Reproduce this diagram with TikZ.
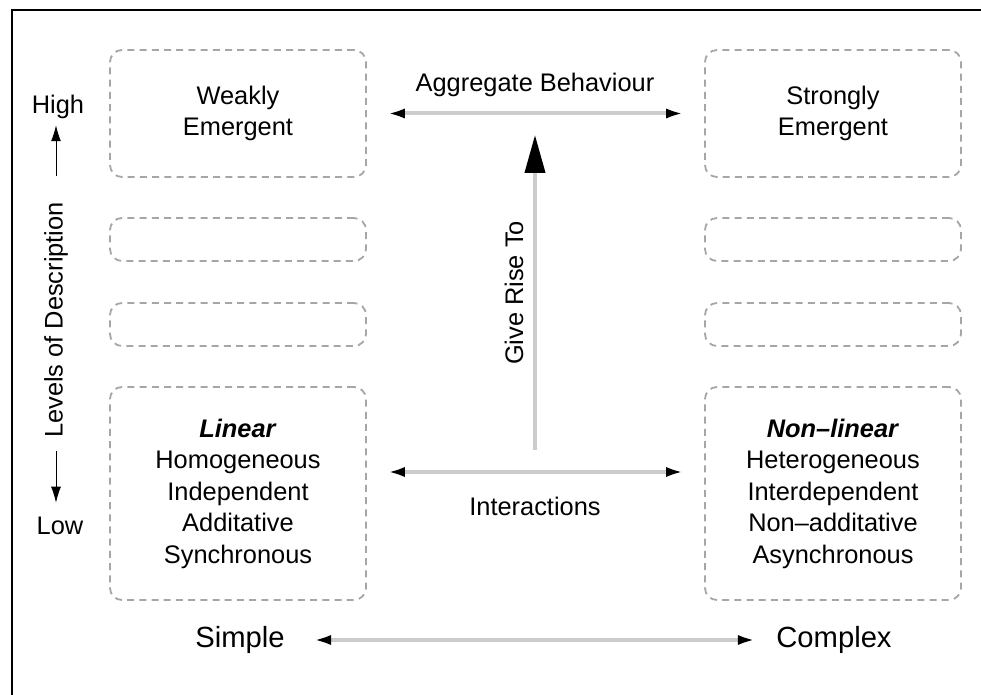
\documentclass[tikz,border=0pt]{standalone}
\usepackage{fontspec}
\setmainfont{Liberation Sans}
\usetikzlibrary{arrows.meta}

\begin{document}
\begin{tikzpicture}[
    x=0.5pt,y=-0.5pt,
    font=\fontsize{12.7}{15.75}\selectfont,
    level/.style={draw=black!35,dash pattern=on 3.5pt off 2.6pt,line width=0.9pt,
                  rounded corners=6pt,align=center,inner sep=0pt,
                  minimum width=128pt},
    lbl/.style={inner sep=0pt},
    big/.style={inner sep=0pt,font=\fontsize{14.6}{17}\selectfont},
    garr/.style={draw=black!20,line width=2pt,
                 {Latex[black,length=9pt,width=5pt]}-{Latex[black,length=9pt,width=5pt]}},
    axarr/.style={-{Latex[length=8pt,width=5pt]},line width=0.5pt}
  ]
  \useasboundingbox (0,0) rectangle (981,695);
  \draw[line width=1pt] (12,695) -- (12,10) -- (981,10);

  % levels of description
  \node[level,minimum height=63.5pt] (weak) at (238,113.5) {Weakly\\Emergent};
  \node[level,minimum height=63.5pt] (strong) at (833,113.5) {Strongly\\Emergent};
  \node[level,minimum height=21.5pt] (lmidA) at (238,239.5) {};
  \node[level,minimum height=21.5pt] (rmidA) at (833,239.5) {};
  \node[level,minimum height=21.5pt] (lmidB) at (238,324.5) {};
  \node[level,minimum height=21.5pt] (rmidB) at (833,324.5) {};
  \node[level,minimum height=106.5pt] (lin) at (238,493.5)
    {\textbf{\textit{Linear}}\\Homogeneous\\Independent\\Additative\\Synchronous};
  \node[level,minimum height=106.5pt] (nonlin) at (833,493.5)
    {\textbf{\textit{Non--linear}}\\Heterogeneous\\Interdependent\\Non--additative\\Asynchronous};

  % centre arrows
  \node[lbl] (aggr) at (535,85) {Aggregate Behaviour};
  \draw[garr,shorten <=10pt,shorten >=10pt] (weak.east) -- (strong.west);
  \node[lbl] (inter) at (535,506) {Interactions};
  \draw[garr,shorten <=10pt,shorten >=10pt]
    ([yshift=10.75pt]lin.east) -- ([yshift=10.75pt]nonlin.west);
  \coordinate (rbase) at (535,450);
  \coordinate (rtop) at (535,135);
  \draw[draw=black!20,line width=2pt,-{Triangle[black,length=19pt,width=10pt]}]
    (rbase) -- (rtop);
  \node[lbl,rotate=90] (rise) at (514,293) {Give Rise To};

  % axes
  \node[lbl] (high) at (58,107) {High};
  \node[lbl] (low) at (60,526) {Low};
  \node[lbl,rotate=90] (desc) at (56,320) {Levels of Description};
  \draw[axarr,shorten <=13pt,shorten >=3pt] (desc.east) -- (desc.east |- high.south);
  \draw[axarr,shorten <=6.5pt,shorten >=7pt] (desc.west) -- (desc.west |- low.north);

  \node[big] (simple) at (240,640) {Simple};
  \node[big] (complex) at (834,640) {Complex};
  \draw[garr,shorten <=14pt,shorten >=10pt] (simple.east) -- (complex.west);
\end{tikzpicture}
\end{document}
